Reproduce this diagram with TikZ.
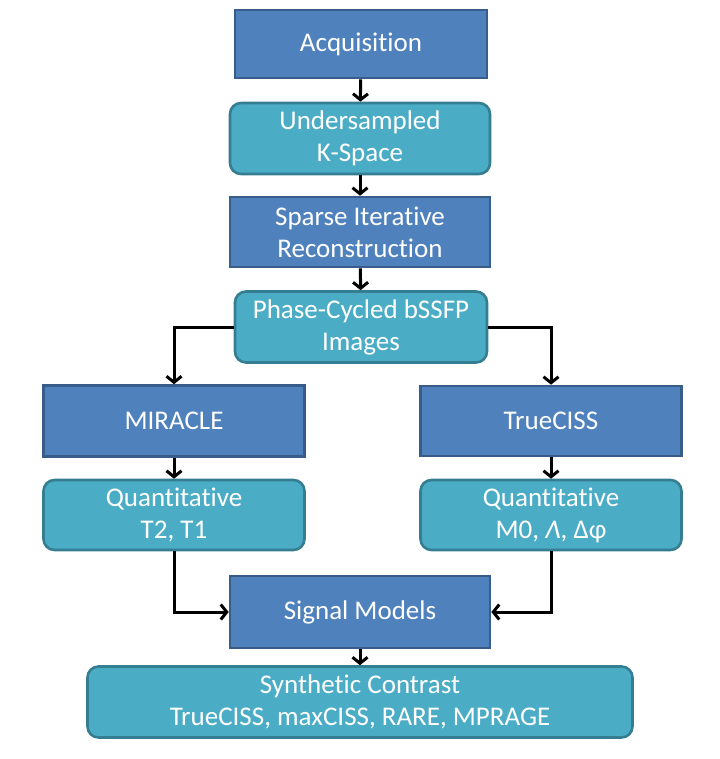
\documentclass[tikz,border=0pt]{standalone}
\usepackage{fontspec}
\setmainfont{Carlito}[Ligatures=NoCommon]
\usepackage{tikz}
\usetikzlibrary{positioning,arrows.meta}
\definecolor{bluefill}{HTML}{4F81BD}
\definecolor{blueline}{HTML}{385D8A}
\definecolor{tealfill}{HTML}{4BACC6}
\definecolor{tealline}{HTML}{357D91}

\begin{document}
\begin{tikzpicture}[x=1pt,y=-1pt,
    stepbox/.style={draw=blueline,fill=bluefill,line width=2.6pt,inner sep=0pt,
      minimum width=260pt,minimum height=70pt,text=white,align=center,
      font=\fontsize{27}{32}\selectfont},
    databox/.style={stepbox,draw=tealline,fill=tealfill,rounded corners=11pt},
    arr/.style={line width=3pt,-{Straight Barb[length=6pt,width=15pt]}}]
        \useasboundingbox (0,0) rectangle (719,759);
        % processing chain
        \node[stepbox,minimum width=252pt,minimum height=68pt] (acq) at (361,44) {Acquisition};
        \node[databox,minimum height=71pt] (under) at (360,138.5) {Undersampled\\K-Space};
        \node[stepbox] (sparse) at (360,232) {Sparse Iterative\\Reconstruction};
        \node[databox,minimum width=252pt,minimum height=71pt] (phase) at (361,327) {Phase-Cycled bSSFP\\Images};
        % two branches
        \node[stepbox,minimum width=261pt,minimum height=71pt] (miracle) at (174,421) {MIRACLE};
        \node[stepbox,minimum width=261pt] (truec) at (551,421) {TrueCISS};
        \node[databox,minimum width=261pt] (quantl) at (174,515) {Quantitative\\T2, T1};
        \node[databox,minimum width=261pt] (quantr) at (551,515) {Quantitative\\M0, {\itshape Λ}, Δφ};
        % merge
        \node[stepbox,minimum height=72pt] (signal) at (360,612) {Signal Models};
        \node[databox,minimum width=545pt,minimum height=71pt] (synth) at (360,702) {Synthetic Contrast\\TrueCISS, maxCISS, RARE, MPRAGE};
        \draw[arr] (acq) -- (under);
        \draw[arr] (under) -- (sparse);
        \draw[arr] (sparse) -- (phase);
        \draw[arr] (phase.west) -| (miracle.north);
        \draw[arr] (phase.east) -| (truec.north);
        \draw[arr] (miracle) -- (quantl);
        \draw[arr] (truec) -- (quantr);
        \draw[arr] (quantl.south) |- (signal.west);
        \draw[arr] (quantr.south) |- (signal.east);
        \draw[arr] (signal) -- (synth);
\end{tikzpicture}
\end{document}
